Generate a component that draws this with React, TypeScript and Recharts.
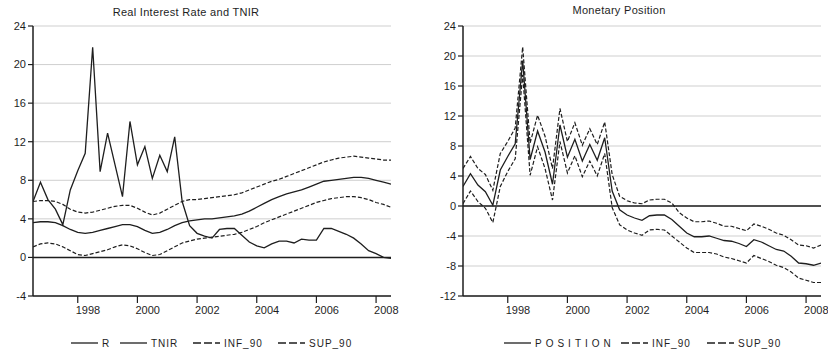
import {
	CartesianGrid,
	Line,
	LineChart,
	ReferenceLine,
	XAxis,
	YAxis,
} from "recharts";

// quarterly observations, 1996Q3 .. 2008Q3
const START_YEAR = 1996.5;

const rValues = [5.8, 7.8, 6.0, 5.0, 3.4, 7.0, 9.0, 10.8, 21.8, 8.9, 12.9, 9.6, 6.3, 14.1, 9.6, 11.5, 8.2, 10.6, 8.9, 12.5, 5.8, 3.3, 2.5, 2.2, 2.0, 2.9, 3.0, 3.0, 2.3, 1.6, 1.2, 1.0, 1.4, 1.7, 1.7, 1.5, 1.9, 1.8, 1.8, 3.0, 3.0, 2.7, 2.4, 2.0, 1.4, 0.7, 0.4, 0.0, -0.1];
const tnirValues = [3.6, 3.7, 3.7, 3.6, 3.3, 2.9, 2.6, 2.5, 2.6, 2.8, 3.0, 3.2, 3.4, 3.4, 3.2, 2.8, 2.5, 2.6, 2.9, 3.3, 3.6, 3.8, 3.9, 4.0, 4.0, 4.1, 4.2, 4.3, 4.5, 4.8, 5.2, 5.6, 6.0, 6.3, 6.6, 6.8, 7.0, 7.3, 7.6, 7.9, 8.0, 8.1, 8.2, 8.3, 8.3, 8.2, 8.0, 7.8, 7.6];
const infRateValues = [1.1, 1.4, 1.5, 1.4, 1.1, 0.7, 0.3, 0.2, 0.4, 0.6, 0.8, 1.1, 1.3, 1.2, 0.9, 0.5, 0.2, 0.3, 0.7, 1.1, 1.5, 1.7, 1.9, 2.0, 2.1, 2.2, 2.3, 2.4, 2.6, 2.9, 3.2, 3.6, 3.9, 4.2, 4.5, 4.8, 5.1, 5.4, 5.7, 5.9, 6.1, 6.2, 6.3, 6.3, 6.2, 6.0, 5.7, 5.5, 5.2];
const supRateValues = [5.8, 5.9, 5.9, 5.8, 5.5, 5.0, 4.7, 4.6, 4.7, 4.9, 5.1, 5.3, 5.4, 5.4, 5.1, 4.7, 4.4, 4.6, 5.0, 5.4, 5.8, 6.0, 6.0, 6.1, 6.2, 6.3, 6.4, 6.5, 6.7, 7.0, 7.3, 7.6, 7.9, 8.1, 8.4, 8.7, 9.0, 9.3, 9.6, 9.9, 10.1, 10.3, 10.4, 10.5, 10.4, 10.3, 10.2, 10.1, 10.1];

const positionValues = [2.6, 4.3, 2.8, 1.9, 0.1, 4.8, 6.6, 8.3, 19.4, 6.2, 10.0, 7.2, 2.9, 10.8, 6.5, 8.9, 6.0, 8.2, 6.1, 9.1, 2.0, -0.5, -1.2, -1.6, -1.9, -1.3, -1.2, -1.2, -1.8, -2.7, -3.6, -4.1, -4.1, -4.0, -4.3, -4.6, -4.7, -5.0, -5.4, -4.5, -4.8, -5.3, -5.8, -6.0, -6.7, -7.6, -7.7, -7.9, -7.6];
const infPosValues = [0.3, 2.0, 0.6, -0.3, -2.2, 2.6, 4.6, 6.3, 17.5, 4.1, 7.9, 5.0, 0.8, 8.6, 4.4, 6.7, 3.9, 6.0, 4.0, 7.0, -0.2, -2.5, -3.2, -3.6, -3.9, -3.2, -3.1, -3.2, -4.0, -4.8, -5.6, -6.2, -6.2, -6.2, -6.4, -6.8, -7.0, -7.3, -7.6, -6.6, -7.0, -7.4, -7.9, -8.2, -8.8, -9.6, -9.9, -10.2, -10.2];
const supPosValues = [5.0, 6.6, 5.0, 4.2, 2.1, 7.0, 8.6, 10.4, 21.2, 8.4, 12.1, 9.3, 5.0, 13.0, 8.6, 11.1, 8.1, 10.3, 8.2, 11.2, 4.2, 1.3, 0.7, 0.4, 0.3, 0.8, 0.9, 0.9, 0.4, -0.9, -1.6, -2.1, -2.1, -2.0, -2.3, -2.7, -2.7, -3.0, -3.3, -2.4, -2.7, -3.1, -3.6, -3.9, -4.5, -5.2, -5.3, -5.6, -5.2];

const yearTicks = [1997, 1998, 1999, 2000, 2001, 2002, 2003, 2004, 2005, 2006, 2007, 2008];
const leftTicks = [-4, 0, 4, 8, 12, 16, 20, 24];
const rightTicks = [-12, -8, -4, 0, 4, 8, 12, 16, 20, 24];

const rateData = rValues.map((r, i) => ({
	t: START_YEAR + i * 0.25,
	r,
	tnir: tnirValues[i],
	inf: infRateValues[i],
	sup: supRateValues[i],
}));

const positionData = positionValues.map((p, i) => ({
	t: START_YEAR + i * 0.25,
	position: p,
	inf: infPosValues[i],
	sup: supPosValues[i],
}));

const FONT = "'Liberation Sans', Arial, sans-serif";
const INK = "#1e1e1e";
const DASH = "4 2";

function YearTick(props: any) {
	const { x, y, payload } = props;
	const label = payload.value % 2 === 0 ? String(payload.value) : "";
	return (
		<text x={x - 2} y={y} dy="0.71em" textAnchor="start" fontSize={11} fill={INK} fontFamily={FONT}>
			{label}
		</text>
	);
}

type LegendItem = { label: string; dashed?: boolean; x: number; spacing?: number };

function LegendRow({ items }: { items: LegendItem[] }) {
	return (
		<svg width={414} height={20} style={{ position: "absolute", left: 0, top: 333 }}>
			{items.map((it) => (
				<g key={it.label + it.x}>
					<line
						x1={it.x}
						x2={it.x + 27}
						y1={10}
						y2={10}
						stroke={INK}
						strokeWidth={1.3}
						strokeDasharray={it.dashed ? "8 3" : undefined}
					/>
					<text x={it.x + 31} y={14} fontSize={10} fill={INK} fontFamily={FONT} letterSpacing={it.spacing ?? 1}>
						{it.label}
					</text>
				</g>
			))}
		</svg>
	);
}

function Panel({
	data,
	ticks,
	domain,
	marginLeft,
	marginRight,
	children,
}: {
	data: any[];
	ticks: number[];
	domain: [number, number];
	marginLeft: number;
	marginRight: number;
	children: React.ReactNode;
}) {
	return (
		<LineChart
			width={414}
			height={358}
			data={data}
			margin={{ top: 26, right: marginRight, bottom: 32, left: marginLeft }}
		>
			<CartesianGrid horizontal vertical={false} stroke="#cfcfcf" strokeWidth={1} />
			<XAxis
				dataKey="t"
				type="number"
				domain={[1996.5, 2008.5]}
				ticks={yearTicks}
				height={30}
				tickSize={7}
				tickMargin={3}
				tick={<YearTick />}
				tickLine={{ stroke: INK, strokeWidth: 1.2 }}
				axisLine={{ stroke: INK, strokeWidth: 1.5 }}
				allowDataOverflow
			/>
			<XAxis
				xAxisId="top"
				dataKey="t"
				type="number"
				domain={[1996.5, 2008.5]}
				orientation="top"
				height={0}
				tick={false}
				tickLine={false}
				axisLine={{ stroke: INK, strokeWidth: 1.5 }}
			/>
			<YAxis
				domain={domain}
				ticks={ticks}
				width={30}
				tickSize={5}
				tickMargin={2}
				interval={0}
				tick={{ fontSize: 11, fill: INK, fontFamily: FONT }}
				tickLine={{ stroke: INK, strokeWidth: 1.2 }}
				axisLine={{ stroke: INK, strokeWidth: 1.5 }}
				allowDataOverflow
			/>
			<YAxis
				yAxisId="frame"
				orientation="right"
				domain={domain}
				width={0}
				tick={false}
				tickLine={false}
				axisLine={{ stroke: INK, strokeWidth: 1.5 }}
			/>
			<ReferenceLine y={0} stroke={INK} strokeWidth={1.6} />
			{children}
		</LineChart>
	);
}

const titleStyle = {
	position: "absolute" as const,
	width: 200,
	textAlign: "center" as const,
	fontSize: 11,
	fontFamily: FONT,
	color: INK,
	letterSpacing: 0.3,
};

export default function App() {
	return (
		<div style={{ position: "absolute", left: 0, top: 0, width: 828, height: 358, background: "#fff", overflow: "hidden" }}>
			<div style={{ position: "absolute", left: 0, top: 0 }}>
				<Panel data={rateData} ticks={leftTicks} domain={[-4, 24]} marginLeft={3} marginRight={23}>
					<Line dataKey="inf" stroke={INK} strokeWidth={1.2} strokeDasharray={DASH} dot={false} isAnimationActive={false} />
					<Line dataKey="sup" stroke={INK} strokeWidth={1.2} strokeDasharray={DASH} dot={false} isAnimationActive={false} />
					<Line dataKey="tnir" stroke={INK} strokeWidth={1.3} dot={false} isAnimationActive={false} />
					<Line dataKey="r" stroke={INK} strokeWidth={1.3} dot={false} isAnimationActive={false} />
				</Panel>
			</div>
			<div style={{ position: "absolute", left: 414, top: 0 }}>
				<Panel data={positionData} ticks={rightTicks} domain={[-12, 24]} marginLeft={19} marginRight={7}>
					<Line dataKey="inf" stroke={INK} strokeWidth={1.2} strokeDasharray={DASH} dot={false} isAnimationActive={false} />
					<Line dataKey="sup" stroke={INK} strokeWidth={1.2} strokeDasharray={DASH} dot={false} isAnimationActive={false} />
					<Line dataKey="position" stroke={INK} strokeWidth={1.3} dot={false} isAnimationActive={false} />
				</Panel>
			</div>
			<div style={{ ...titleStyle, left: 86, top: 6 }}>Real Interest Rate and TNIR</div>
			<div style={{ ...titleStyle, left: 519, top: 4 }}>Monetary Position</div>
			<div style={{ position: "absolute", left: 0, top: 0 }}>
				<LegendRow
					items={[
						{ label: "R", x: 71 },
						{ label: "TNIR", x: 120 },
						{ label: "INF_90", x: 193, dashed: true },
						{ label: "SUP_90", x: 278, dashed: true },
					]}
				/>
			</div>
			<div style={{ position: "absolute", left: 414, top: 0 }}>
				<LegendRow
					items={[
						{ label: "POSITION", x: 90, spacing: 4 },
						{ label: "INF_90", x: 207, dashed: true },
						{ label: "SUP_90", x: 293, dashed: true },
					]}
				/>
			</div>
		</div>
	);
}
